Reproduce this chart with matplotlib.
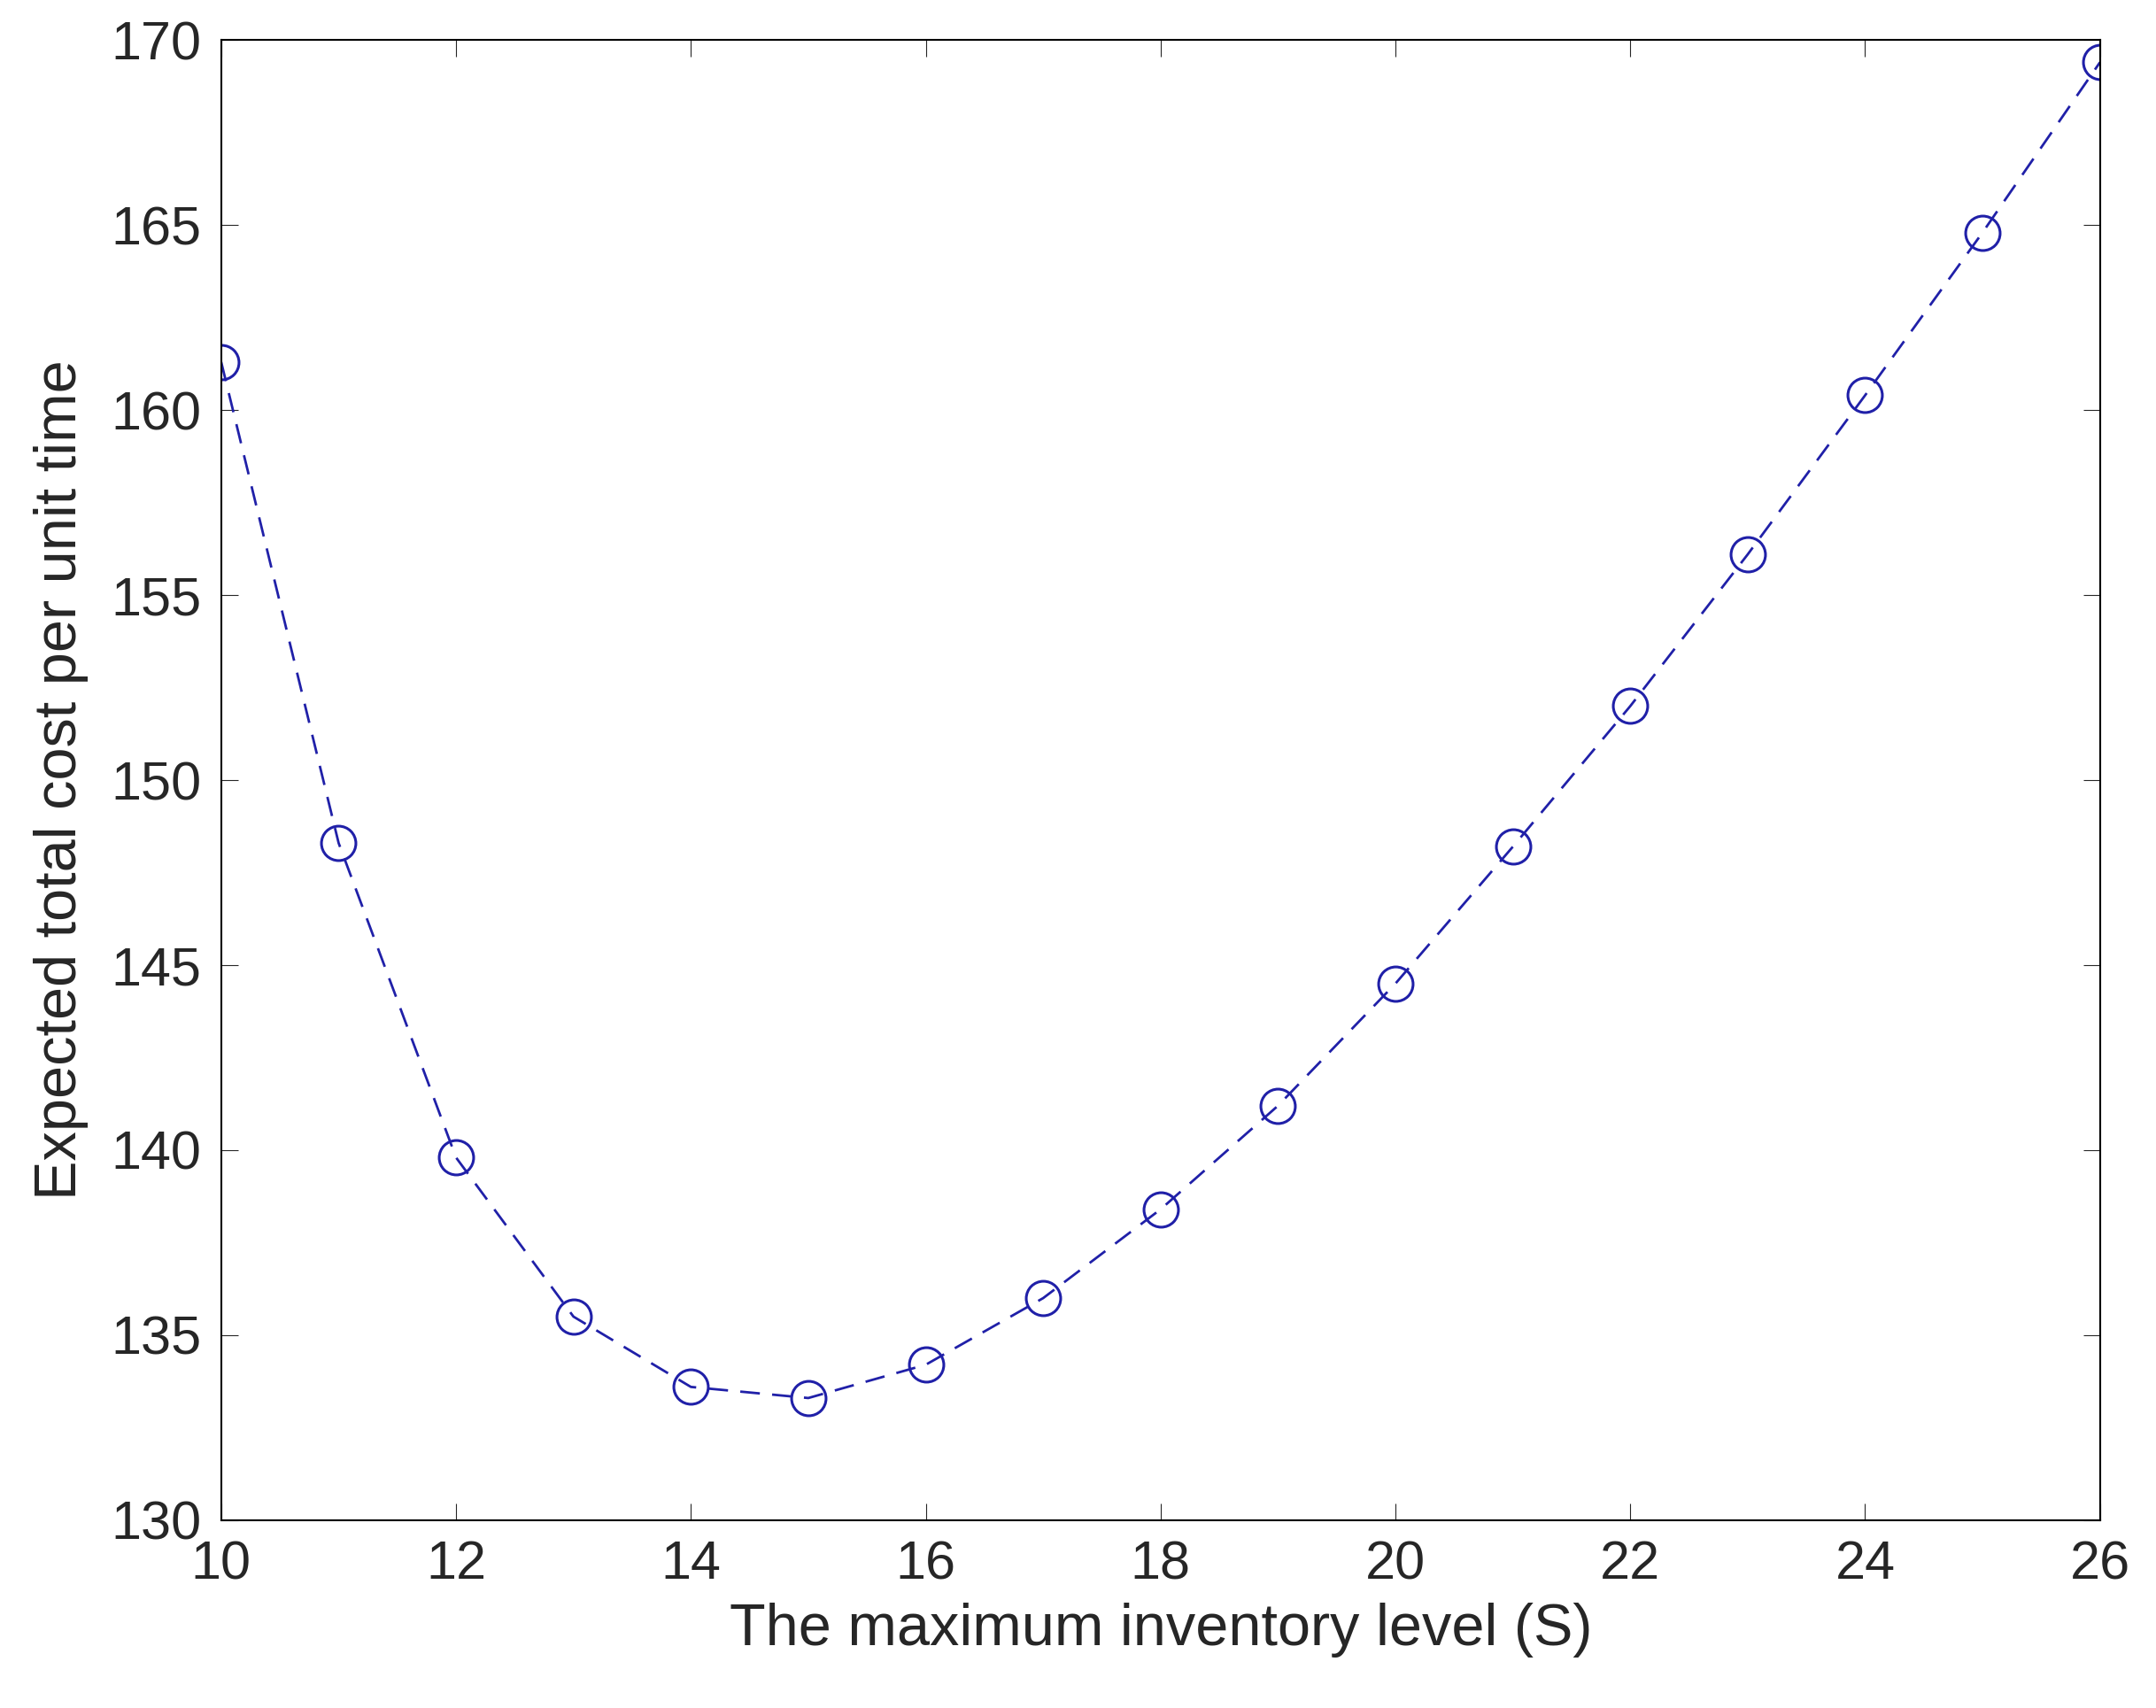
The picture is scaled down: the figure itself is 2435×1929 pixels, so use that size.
import matplotlib.pyplot as plt

levels = [10, 11, 12, 13, 14, 15, 16, 17, 18, 19, 20, 21, 22, 23, 24, 25, 26]
cost = [161.3, 148.3, 139.8, 135.5, 133.6, 133.3, 134.2, 136.0, 138.4, 141.2,
        144.5, 148.2, 152.0, 156.1, 160.4, 164.8, 169.4]
xticks = list(range(10, 27, 2))
yticks = list(range(130, 171, 5))

plt.rcParams['font.family'] = ['Liberation Sans', 'DejaVu Sans']
fig = plt.figure(figsize=(24.35, 19.29), dpi=100)
ax = fig.add_axes([0.1026, 0.110, 0.8714, 0.8665])
ax.plot(levels, cost, linestyle=(0, (8, 5)), color='#2020a8', linewidth=2,
        marker='o', markersize=28, markerfacecolor='none', markeredgewidth=2.2)
ax.set_xlim(10, 26)
ax.set_ylim(130, 170)
ax.set_xticks(xticks)
ax.set_yticks(yticks)
ax.tick_params(labelsize=44, direction='in', length=14, pad=16, top=True, right=True,
               colors='#262626')
for s in ax.spines.values():
    s.set_linewidth(1.5)
ax.set_xlabel('The maximum inventory level (S)', fontsize=48, color='#262626', labelpad=10)
ax.set_ylabel('Expected total cost per unit time', fontsize=48, color='#262626', labelpad=18)
fig.savefig('out.png', dpi=100)
